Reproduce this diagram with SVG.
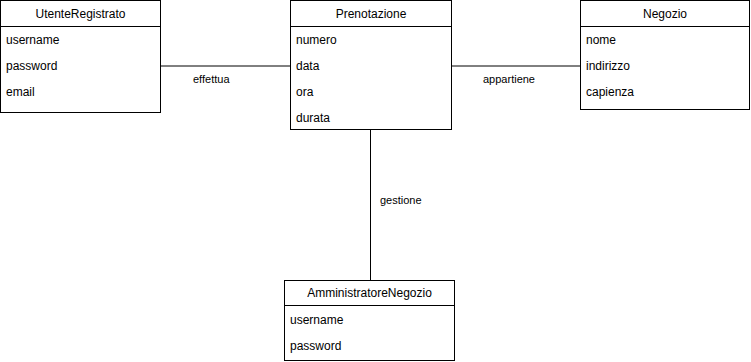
<svg xmlns="http://www.w3.org/2000/svg" width="751" height="362" viewBox="0 0 751 362">
  <style>
    .box { fill: #ffffff; stroke: #000000; stroke-width: 1; }
    .sep { stroke: #000000; stroke-width: 1; }
    .edge { stroke: #000000; stroke-width: 1; fill: none; }
    text { font-family: "Liberation Sans", Arial, Helvetica, sans-serif; font-size: 12px; fill: #000000; }
    .title { text-anchor: middle; }
    .lbl { font-size: 11px; }
  </style>
  <rect width="751" height="362" fill="#ffffff"/>

  <g id="connectors">
    <line class="edge" x1="160.5" y1="66" x2="291" y2="66"/>
    <line class="edge" x1="452" y1="66" x2="580.5" y2="66"/>
    <line class="edge" x1="370.5" y1="129.5" x2="370.5" y2="280.5"/>
    <text class="lbl" x="193" y="83">effettua</text>
    <text class="lbl" x="483" y="83">appartiene</text>
    <text class="lbl" x="380" y="204">gestione</text>
  </g>

  <g id="UtenteRegistrato">
    <rect class="box" x="0.5" y="0.5" width="160" height="112"/>
    <line class="sep" x1="0.5" y1="26.5" x2="160.5" y2="26.5"/>
    <text class="title" x="80.5" y="18">UtenteRegistrato</text>
    <text x="6" y="44">username</text>
    <text x="6" y="70">password</text>
    <text x="6" y="96">email</text>
  </g>

  <g id="Prenotazione">
    <rect class="box" x="290.5" y="0.5" width="161" height="129"/>
    <line class="sep" x1="290.5" y1="26.5" x2="451.5" y2="26.5"/>
    <text class="title" x="371" y="18">Prenotazione</text>
    <text x="296" y="44">numero</text>
    <text x="296" y="70">data</text>
    <text x="296" y="96">ora</text>
    <text x="296" y="122">durata</text>
  </g>

  <g id="Negozio">
    <rect class="box" x="580.5" y="0.5" width="169" height="109"/>
    <line class="sep" x1="580.5" y1="26.5" x2="749.5" y2="26.5"/>
    <text class="title" x="665" y="18">Negozio</text>
    <text x="586" y="44">nome</text>
    <text x="586" y="70">indirizzo</text>
    <text x="586" y="96">capienza</text>
  </g>

  <g id="AmministratoreNegozio">
    <rect class="box" x="284.5" y="280.5" width="170" height="80"/>
    <line class="sep" x1="284.5" y1="305.5" x2="454.5" y2="305.5"/>
    <text class="title" x="369.5" y="297">AmministratoreNegozio</text>
    <text x="290" y="324">username</text>
    <text x="290" y="350">password</text>
  </g>
</svg>
